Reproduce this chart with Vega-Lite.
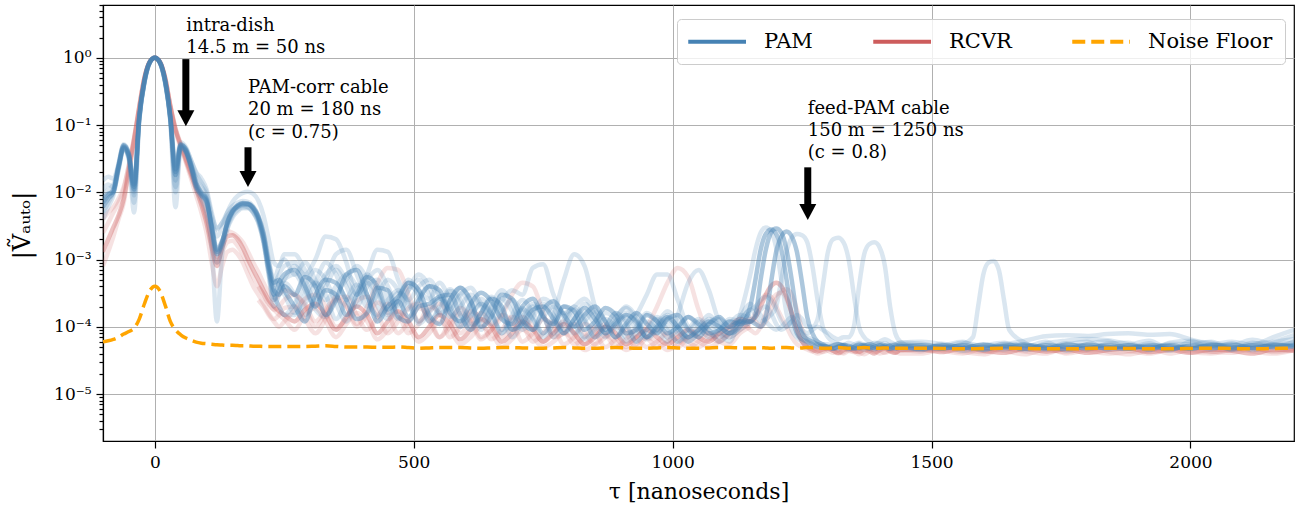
{
  "$schema": "https://vega.github.io/schema/vega-lite/v6.json",
  "width": 1191,
  "height": 436,
  "autosize": {"type": "none"},
  "padding": {"left": 103, "top": 5, "right": 2, "bottom": 67},
  "background": "white",
  "config": {
    "view": {"stroke": "#000000", "strokeWidth": 1.2},
    "font": "DejaVu Serif",
    "axis": {"domainColor": "#000000", "domainWidth": 1.2, "tickColor": "#000000", "tickWidth": 1.2, "labelColor": "#000000", "titleColor": "#000000", "gridColor": "#b0b0b0", "gridWidth": 1, "labelFont": "DejaVu Serif", "titleFont": "DejaVu Serif", "titleFontWeight": "normal", "labelFlush": false, "labelOverlap": false}
  },
  "datasets": {
    "curves": [
      {"x":-100,"p1":0.007,"p2":0.008,"p3":0.006,"p4":0.015,"p5":0.009,"p6":0.005,"p7":0.011,"p8":0.004,"r1":0.0013,"r2":0.0008,"r3":0.0025,"r4":0.004,"nf":6e-5},
      {"x":-90,"p1":0.009,"p2":0.0095,"p3":0.008,"p4":0.017,"p5":0.011,"p6":0.007,"p7":0.013,"p8":0.006,"r1":0.002,"r2":0.0013,"r3":0.0035,"r4":0.005,"nf":6.2e-5},
      {"x":-80,"p1":0.011,"p2":0.01,"p3":0.01,"p4":0.016,"p5":0.013,"p6":0.01,"p7":0.012,"p8":0.009,"r1":0.003,"r2":0.0022,"r3":0.005,"r4":0.006,"nf":6.5e-5},
      {"x":-70,"p1":0.024,"p2":0.023,"p3":0.025,"p4":0.026,"p5":0.024,"p6":0.022,"p7":0.027,"p8":0.021,"r1":0.0045,"r2":0.004,"r3":0.007,"r4":0.008,"nf":7e-5},
      {"x":-60,"p1":0.048,"p2":0.046,"p3":0.05,"p4":0.05,"p5":0.045,"p6":0.047,"p7":0.052,"p8":0.044,"r1":0.008,"r2":0.007,"r3":0.011,"r4":0.012,"nf":7.8e-5},
      {"x":-50,"p1":0.035,"p2":0.034,"p3":0.037,"p4":0.036,"p5":0.033,"p6":0.03,"p7":0.038,"p8":0.032,"r1":0.022,"r2":0.02,"r3":0.026,"r4":0.025,"nf":8.5e-5},
      {"x":-40,"p1":0.012,"p2":0.011,"p3":0.013,"p4":0.009,"p5":0.01,"p6":0.005,"p7":0.014,"p8":0.007,"r1":0.06,"r2":0.055,"r3":0.065,"r4":0.062,"nf":9.5e-5},
      {"x":-30,"p1":0.13,"p2":0.125,"p3":0.135,"p4":0.12,"p5":0.13,"p6":0.115,"p7":0.14,"p8":0.12,"r1":0.18,"r2":0.17,"r3":0.19,"r4":0.185,"nf":1.3e-4},
      {"x":-20,"p1":0.45,"p2":0.44,"p3":0.46,"p4":0.43,"p5":0.45,"p6":0.42,"p7":0.47,"p8":0.44,"r1":0.5,"r2":0.49,"r3":0.51,"r4":0.5,"nf":2.2e-4},
      {"x":-10,"p1":0.85,"p2":0.84,"p3":0.86,"p4":0.84,"p5":0.85,"p6":0.83,"p7":0.86,"p8":0.84,"r1":0.86,"r2":0.86,"r3":0.87,"r4":0.86,"nf":3.4e-4},
      {"x":0,"p1":1,"p2":1,"p3":1,"p4":1,"p5":1,"p6":1,"p7":1,"p8":1,"r1":1,"r2":1,"r3":1,"r4":1,"nf":4e-4},
      {"x":10,"p1":0.85,"p2":0.84,"p3":0.86,"p4":0.84,"p5":0.85,"p6":0.83,"p7":0.86,"p8":0.84,"r1":0.86,"r2":0.86,"r3":0.87,"r4":0.86,"nf":3.4e-4},
      {"x":20,"p1":0.45,"p2":0.44,"p3":0.46,"p4":0.43,"p5":0.45,"p6":0.42,"p7":0.47,"p8":0.44,"r1":0.5,"r2":0.49,"r3":0.51,"r4":0.5,"nf":2.1e-4},
      {"x":30,"p1":0.13,"p2":0.125,"p3":0.135,"p4":0.12,"p5":0.13,"p6":0.115,"p7":0.14,"p8":0.12,"r1":0.19,"r2":0.18,"r3":0.2,"r4":0.19,"nf":1.2e-4},
      {"x":40,"p1":0.02,"p2":0.018,"p3":0.022,"p4":0.012,"p5":0.015,"p6":0.006,"p7":0.025,"p8":0.01,"r1":0.085,"r2":0.08,"r3":0.09,"r4":0.087,"nf":9e-5},
      {"x":50,"p1":0.05,"p2":0.048,"p3":0.052,"p4":0.05,"p5":0.047,"p6":0.045,"p7":0.055,"p8":0.046,"r1":0.05,"r2":0.047,"r3":0.053,"r4":0.051,"nf":7.6e-5},
      {"x":60,"p1":0.042,"p2":0.04,"p3":0.044,"p4":0.045,"p5":0.04,"p6":0.042,"p7":0.047,"p8":0.038,"r1":0.03,"r2":0.028,"r3":0.032,"r4":0.033,"nf":6.8e-5},
      {"x":70,"p1":0.025,"p2":0.024,"p3":0.026,"p4":0.03,"p5":0.027,"p6":0.022,"p7":0.03,"p8":0.023,"r1":0.018,"r2":0.016,"r3":0.02,"r4":0.02,"nf":6.3e-5},
      {"x":80,"p1":0.013,"p2":0.012,"p3":0.014,"p4":0.02,"p5":0.016,"p6":0.011,"p7":0.019,"p8":0.012,"r1":0.011,"r2":0.009,"r3":0.012,"r4":0.013,"nf":5.9e-5},
      {"x":90,"p1":0.0095,"p2":0.009,"p3":0.01,"p4":0.016,"p5":0.012,"p6":0.008,"p7":0.014,"p8":0.009,"r1":0.0065,"r2":0.005,"r3":0.0075,"r4":0.008,"nf":5.7e-5},
      {"x":100,"p1":0.0075,"p2":0.0072,"p3":0.008,"p4":0.011,"p5":0.009,"p6":0.005,"p7":0.01,"p8":0.0065,"r1":0.0035,"r2":0.0025,"r3":0.0042,"r4":0.0045,"nf":5.6e-5},
      {"x":110,"p1":0.003,"p2":0.0032,"p3":0.0028,"p4":0.005,"p5":0.004,"p6":0.0015,"p7":0.0045,"p8":0.0025,"r1":0.0015,"r2":0.0009,"r3":0.002,"r4":0.0018,"nf":5.5e-5},
      {"x":120,"p1":0.0013,"p2":0.0014,"p3":0.0012,"p4":0.0028,"p5":0.0022,"p6":0.00012,"p7":0.003,"p8":0.0009,"r1":0.0008,"r2":0.0004,"r3":0.0011,"r4":0.0009,"nf":5.4e-5},
      {"x":130,"p1":0.0018,"p2":0.0019,"p3":0.0017,"p4":0.0035,"p5":0.003,"p6":0.0012,"p7":0.0035,"p8":0.0015,"r1":0.0015,"r2":0.0008,"r3":0.0018,"r4":0.0013,"nf":5.35e-5},
      {"x":140,"p1":0.0035,"p2":0.0033,"p3":0.0036,"p4":0.0045,"p5":0.005,"p6":0.0028,"p7":0.005,"p8":0.003,"r1":0.0022,"r2":0.0013,"r3":0.0026,"r4":0.0018,"nf":5.3e-5},
      {"x":150,"p1":0.0052,"p2":0.005,"p3":0.0053,"p4":0.0055,"p5":0.0072,"p6":0.0042,"p7":0.0062,"p8":0.0045,"r1":0.0023,"r2":0.0014,"r3":0.0025,"r4":0.0019,"nf":5.3e-5},
      {"x":160,"p1":0.0063,"p2":0.0061,"p3":0.0064,"p4":0.006,"p5":0.0088,"p6":0.0052,"p7":0.007,"p8":0.0055,"r1":0.002,"r2":0.0012,"r3":0.0022,"r4":0.0016,"nf":5.25e-5},
      {"x":170,"p1":0.0068,"p2":0.0066,"p3":0.0069,"p4":0.0063,"p5":0.0098,"p6":0.0058,"p7":0.0074,"p8":0.006,"r1":0.0015,"r2":0.0009,"r3":0.0018,"r4":0.0012,"nf":5.2e-5},
      {"x":180,"p1":0.0067,"p2":0.0066,"p3":0.0068,"p4":0.006,"p5":0.0102,"p6":0.0058,"p7":0.0072,"p8":0.006,"r1":0.001,"r2":0.0006,"r3":0.0013,"r4":0.0008,"nf":5.2e-5},
      {"x":190,"p1":0.0058,"p2":0.0057,"p3":0.006,"p4":0.005,"p5":0.0095,"p6":0.005,"p7":0.0062,"p8":0.0052,"r1":0.0007,"r2":0.0004,"r3":0.0009,"r4":0.00055,"nf":5.15e-5},
      {"x":200,"p1":0.0042,"p2":0.004,"p3":0.0044,"p4":0.0035,"p5":0.0075,"p6":0.0036,"p7":0.0045,"p8":0.0038,"r1":0.0005,"r2":0.0003,"r3":0.00065,"r4":0.0004,"s1":4e-4,"s2":2.5e-4,"nf":5.15e-5},
      {"x":210,"p1":0.0022,"p2":0.002,"p3":0.0024,"p4":0.0018,"p5":0.0045,"p6":0.0018,"p7":0.0025,"p8":0.002,"r1":0.00035,"r2":0.00022,"r3":0.00045,"r4":0.0003,"s1":3e-4,"s2":2e-4,"nf":5.1e-5},
      {"x":220,"p1":0.0008,"p2":0.0007,"p3":0.0009,"p4":0.0006,"p5":0.002,"p6":0.0006,"p7":0.001,"p8":0.0007,"r1":0.00025,"r2":0.00016,"r3":0.00032,"r4":0.00022,"s1":2.2e-4,"s2":1.5e-4,"nf":5.1e-5},
      {"x":230,"p1":0.00035,"p2":0.0003,"p3":0.00045,"p4":0.00025,"p5":0.0009,"p6":0.0002,"p7":0.0005,"p8":0.0003,"q1":4e-4,"q2":3e-4,"q3":5e-4,"q4":2.5e-4,"r1":0.0002,"r2":0.00013,"r3":0.00025,"r4":0.00018,"s1":1.8e-4,"s2":1.2e-4,"nf":5.1e-5},
      {"x":240,"p1":0.0003,"p2":0.00045,"p3":0.0005,"p4":0.00035,"p5":0.0008,"p6":0.0003,"p7":0.0008,"p8":0.0002,"q1":6e-4,"q2":2e-4,"q3":4e-4,"q4":3.5e-4,"r1":0.00017,"r2":0.00015,"r3":0.0003,"r4":0.00015,"s1":2e-4,"s2":1e-4,"nf":5.1e-5},
      {"x":250,"p1":0.0004,"p2":0.0006,"p3":0.00035,"p4":0.0005,"p5":0.0012,"p6":0.00045,"p7":0.001,"p8":0.00015,"q1":8e-4,"q2":1.5e-4,"q3":3e-4,"q4":5e-4,"r1":0.00015,"r2":0.00019,"r3":0.00035,"r4":0.00013,"s1":2.5e-4,"s2":1.2e-4,"nf":5.1e-5},
      {"x":270,"p1":3e-4,"p2":7e-4,"p3":2e-4,"p4":8e-4,"p5":1.2e-3,"p6":3e-4,"p7":6e-4,"p8":1.5e-4,"q1":9e-4,"q2":2.2e-4,"q3":1.6e-4,"q4":6e-4,"r1":1.2e-4,"r2":2e-4,"r3":3e-4,"r4":9e-5,"s1":3e-4,"s2":1.8e-4,"nf":5.1e-5},
      {"x":290,"p1":5.5e-4,"p2":4e-4,"p3":1.2e-4,"p4":6e-4,"p5":7e-4,"p6":1.5e-4,"p7":9e-4,"p8":3e-4,"q1":5e-4,"q2":4e-4,"q3":2.2e-4,"q4":3.5e-4,"r1":1.8e-4,"r2":1.3e-4,"r3":2.2e-4,"r4":1.5e-4,"s1":2e-4,"s2":2.6e-4,"nf":5.1e-5},
      {"x":310,"p1":4e-4,"p2":2e-4,"p3":3e-4,"p4":1e-3,"p5":4e-4,"p6":2.5e-4,"p7":5e-4,"p8":4.5e-4,"q1":2.5e-4,"q2":7e-4,"q3":4.5e-4,"q4":1.8e-4,"r1":2.2e-4,"r2":8e-5,"r3":1.2e-4,"r4":1.9e-4,"s1":1e-4,"s2":3e-4,"nf":5.15e-5},
      {"x":330,"p1":1.5e-4,"p2":3.5e-4,"p3":5e-4,"p4":2.2e-3,"p5":6e-4,"p6":5e-4,"p7":2.5e-4,"p8":3e-4,"q1":4e-4,"q2":5e-4,"q3":9e-4,"q4":1.4e-4,"r1":1.5e-4,"r2":1.3e-4,"r3":1.8e-4,"r4":1.2e-4,"s1":1.6e-4,"s2":2e-4,"nf":5.2e-5},
      {"x":350,"p1":2.5e-4,"p2":3e-4,"p3":4.5e-4,"p4":2e-3,"p5":8e-4,"p6":1.2e-3,"p7":4e-4,"p8":1.3e-4,"q1":7e-4,"q2":2.2e-4,"q3":6e-4,"q4":3e-4,"r1":9e-5,"r2":2.5e-4,"r3":2.8e-4,"r4":7e-5,"s1":2.6e-4,"s2":1e-4,"nf":5.1e-5},
      {"x":370,"p1":6e-4,"p2":1.5e-4,"p3":2.5e-4,"p4":9e-4,"p5":5e-4,"p6":1.4e-3,"p7":6e-4,"p8":2.5e-4,"q1":4e-4,"q2":1.2e-4,"q3":2.5e-4,"q4":5e-4,"r1":1.4e-4,"r2":2e-4,"r3":2e-4,"r4":1.1e-4,"s1":2.8e-4,"s2":1.3e-4,"nf":5e-5},
      {"x":390,"p1":7e-4,"p2":3e-4,"p3":1.3e-4,"p4":3e-4,"p5":3e-4,"p6":6e-4,"p7":4e-4,"p8":4.2e-4,"q1":2e-4,"q2":2.5e-4,"q3":3.5e-4,"q4":8e-4,"r1":2e-4,"r2":1.1e-4,"r3":1e-4,"r4":1.6e-4,"s1":1.5e-4,"s2":2.4e-4,"nf":5e-5},
      {"x":410,"p1":3e-4,"p2":5.5e-4,"p3":1.6e-4,"p4":5e-4,"p5":6e-4,"p6":2.5e-4,"p7":2e-4,"p8":3e-4,"q1":4e-4,"q2":4.5e-4,"q3":6e-4,"q4":5e-4,"r1":1.5e-4,"r2":2e-4,"r3":1.5e-4,"r4":1.2e-4,"s1":9e-5,"s2":2.8e-4,"nf":5e-5},
      {"x":430,"p1":1.2e-4,"p2":4e-4,"p3":3.8e-4,"p4":7e-4,"p5":1.4e-3,"p6":1.5e-4,"p7":3e-4,"p8":1.4e-4,"q1":5e-4,"q2":3e-4,"q3":3.5e-4,"q4":2e-4,"r1":8e-5,"r2":4.5e-4,"r3":2.3e-4,"r4":6.5e-5,"s1":1.4e-4,"s2":1.6e-4,"nf":4.95e-5},
      {"x":450,"p1":2e-4,"p2":1.8e-4,"p3":3.5e-4,"p4":4e-4,"p5":1.3e-3,"p6":2.5e-4,"p7":5e-4,"p8":2e-4,"q1":2.5e-4,"q2":1.5e-4,"q3":1.6e-4,"q4":1.3e-4,"r1":1.2e-4,"r2":7.5e-4,"r3":1.6e-4,"r4":9e-5,"s1":2.2e-4,"s2":8e-5,"nf":4.95e-5},
      {"x":470,"p1":2.8e-4,"p2":2.4e-4,"p3":1.4e-4,"p4":2e-4,"p5":5e-4,"p6":3.5e-4,"p7":3.5e-4,"p8":3.2e-4,"q1":1.3e-4,"q2":2.2e-4,"q3":2.5e-4,"q4":2.6e-4,"r1":1.7e-4,"r2":7e-4,"r3":8e-5,"r4":1.4e-4,"s1":1.6e-4,"s2":1.2e-4,"nf":5e-5},
      {"x":490,"p1":4.5e-4,"p2":1.4e-4,"p3":1.2e-4,"p4":3.5e-4,"p5":2.5e-4,"p6":2.2e-4,"p7":1.8e-4,"p8":2.4e-4,"q1":3.5e-4,"q2":4e-4,"q3":4.5e-4,"q4":5e-4,"r1":1.2e-4,"r2":3e-4,"r3":1.2e-4,"r4":1e-4,"s1":8e-5,"s2":1.9e-4,"nf":4.9e-5},
      {"x":510,"p1":3.5e-4,"p2":2.5e-4,"p3":2e-4,"p4":5e-4,"p5":4e-4,"p6":1.2e-4,"p7":2.8e-4,"p8":1.1e-4,"q1":6e-4,"q2":3e-4,"q3":2.8e-4,"q4":3.5e-4,"r1":7e-5,"r2":1.2e-4,"r3":1.9e-4,"r4":6e-5,"s1":1.1e-4,"s2":2.2e-4,"nf":4.8e-5},
      {"x":530,"p1":1.5e-4,"p2":4e-4,"p3":2.2e-4,"p4":3e-4,"p5":5e-4,"p6":1.8e-4,"p7":4e-4,"p8":1.6e-4,"q1":4e-4,"q2":1.2e-4,"q3":1.2e-4,"q4":2.6e-4,"r1":1e-4,"r2":1.7e-4,"r3":1.4e-4,"r4":8e-5,"s1":2e-4,"s2":1.2e-4,"nf":4.85e-5},
      {"x":550,"p1":1.1e-4,"p2":3.5e-4,"p3":2.8e-4,"p4":1.5e-4,"p5":3e-4,"p6":2.6e-4,"p7":2.8e-4,"p8":2.6e-4,"q1":1.6e-4,"q2":1.8e-4,"q3":2e-4,"q4":4.5e-4,"r1":1.5e-4,"r2":2.2e-4,"r3":7e-5,"r4":1.2e-4,"s1":1.6e-4,"s2":7e-5,"nf":4.9e-5},
      {"x":570,"p1":2.5e-4,"p2":1.6e-4,"p3":3e-4,"p4":2.5e-4,"p5":1.8e-4,"p6":1.8e-4,"p7":1.4e-4,"p8":2e-4,"q1":2e-4,"q2":3.4e-4,"q3":3.6e-4,"q4":2.5e-4,"r1":1.1e-4,"r2":1.4e-4,"r3":1e-4,"r4":9e-5,"s1":7e-5,"s2":1.2e-4,"nf":4.9e-5},
      {"x":590,"p1":3.8e-4,"p2":1.2e-4,"p3":1.5e-4,"p4":3.8e-4,"p5":3e-4,"p6":1e-4,"p7":2e-4,"p8":1e-4,"q1":3.2e-4,"q2":2.6e-4,"q3":2.2e-4,"q4":1.2e-4,"r1":6.5e-5,"r2":8e-5,"r3":1.6e-4,"r4":5.5e-5,"s1":1e-4,"s2":1.9e-4,"nf":4.9e-5},
      {"x":610,"p1":2.5e-4,"p2":2.2e-4,"p3":9e-5,"p4":2.4e-4,"p5":3.8e-4,"p6":1.5e-4,"p7":3e-4,"p8":1.4e-4,"q1":2e-4,"q2":1.1e-4,"q3":1e-4,"q4":1.7e-4,"r1":9e-5,"r2":1.2e-4,"r3":1.2e-4,"r4":7e-5,"s1":1.7e-4,"s2":1.4e-4,"nf":4.85e-5},
      {"x":630,"p1":1e-4,"p2":3.2e-4,"p3":1.6e-4,"p4":1.2e-4,"p5":2.2e-4,"p6":2.2e-4,"p7":2e-4,"p8":2.2e-4,"q1":9e-5,"q2":1.3e-4,"q3":1.6e-4,"q4":2.6e-4,"r1":1.3e-4,"r2":1.6e-4,"r3":6.5e-5,"r4":1e-4,"s1":1.3e-4,"s2":7e-5,"nf":4.8e-5},
      {"x":650,"p1":1.4e-4,"p2":2.4e-4,"p3":2.6e-4,"p4":1.8e-4,"p5":1.4e-4,"p6":1.5e-4,"p7":1.1e-4,"p8":1.6e-4,"q1":2e-4,"q2":2.2e-4,"q3":2.8e-4,"q4":1.6e-4,"r1":1e-4,"r2":1.1e-4,"r3":9e-5,"r4":8e-5,"s1":6.5e-5,"s2":9e-5,"nf":4.85e-5},
      {"x":670,"p1":3e-4,"p2":1.3e-4,"p3":2e-4,"p4":2.6e-4,"p5":2.4e-4,"p6":9e-5,"p7":1.7e-4,"p8":8e-5,"q1":3.5e-4,"q2":1.5e-4,"q3":1.8e-4,"q4":8e-5,"r1":6e-5,"r2":7e-5,"r3":1.4e-4,"r4":5e-5,"s1":9e-5,"s2":1.5e-4,"nf":4.9e-5},
      {"x":690,"p1":2.6e-4,"p2":1.1e-4,"p3":9e-5,"p4":1.7e-4,"p5":3.5e-4,"p6":1.3e-4,"p7":2.5e-4,"p8":1.2e-4,"q1":2.2e-4,"q2":7e-5,"q3":9e-5,"q4":1.5e-4,"r1":8e-5,"r2":1e-4,"r3":3e-4,"r4":6.5e-5,"s1":1.4e-4,"s2":1.2e-4,"nf":4.9e-5},
      {"x":710,"p1":1.2e-4,"p2":2e-4,"p3":1.1e-4,"p4":9e-5,"p5":3e-4,"p6":1.9e-4,"p7":1.6e-4,"p8":1.8e-4,"q1":1e-4,"q2":1.2e-4,"q3":1.4e-4,"q4":2.5e-4,"r1":1.2e-4,"r2":1.4e-4,"r3":4.5e-4,"r4":9e-5,"s1":1.1e-4,"s2":6e-5,"nf":4.85e-5},
      {"x":730,"p1":9e-5,"p2":2.6e-4,"p3":1.8e-4,"p4":1.4e-4,"p5":7.5e-4,"p6":1.3e-4,"p7":9e-5,"p8":1.3e-4,"q1":1.6e-4,"q2":2e-4,"q3":2.2e-4,"q4":1.6e-4,"r1":9e-5,"r2":1e-4,"r3":4e-4,"r4":7e-5,"s1":6e-5,"s2":8e-5,"nf":4.8e-5},
      {"x":750,"p1":1.8e-4,"p2":1.4e-4,"p3":2e-4,"p4":2.2e-4,"p5":8.5e-4,"p6":8e-5,"p7":1.4e-4,"p8":7e-5,"q1":2.6e-4,"q2":1.5e-4,"q3":1.4e-4,"q4":8e-5,"r1":6e-5,"r2":6e-5,"r3":1.6e-4,"r4":5e-5,"s1":8e-5,"s2":1.3e-4,"nf":4.8e-5},
      {"x":770,"p1":2.4e-4,"p2":1.1e-4,"p3":1.3e-4,"p4":1.5e-4,"p5":3e-4,"p6":1.5e-4,"p7":2e-4,"p8":1.1e-4,"q1":2e-4,"q2":7e-5,"q3":8e-5,"q4":1.2e-4,"r1":8e-5,"r2":9e-5,"r3":7e-5,"r4":6e-5,"s1":1.2e-4,"s2":1e-4,"nf":4.85e-5},
      {"x":790,"p1":1.5e-4,"p2":2e-4,"p3":8e-5,"p4":8e-5,"p5":1.6e-4,"p6":5e-4,"p7":1.4e-4,"p8":1.6e-4,"q1":9e-5,"q2":1.1e-4,"q3":1.3e-4,"q4":2e-4,"r1":1.1e-4,"r2":1.2e-4,"r3":8e-5,"r4":8e-5,"s1":9e-5,"s2":5.5e-5,"nf":4.9e-5},
      {"x":810,"p1":1e-4,"p2":1.7e-4,"p3":1.3e-4,"p4":1.1e-4,"p5":2e-4,"p6":1.2e-3,"p7":8e-5,"p8":1.1e-4,"q1":1.3e-4,"q2":1.8e-4,"q3":2e-4,"q4":1.4e-4,"r1":8e-5,"r2":8e-5,"r3":1.1e-4,"r4":6.5e-5,"s1":5.5e-5,"s2":7e-5,"nf":4.85e-5},
      {"x":830,"p1":1.5e-4,"p2":9e-5,"p3":1.9e-4,"p4":1.6e-4,"p5":2.6e-4,"p6":8e-4,"p7":1.2e-4,"p8":6.5e-5,"q1":2.2e-4,"q2":1.2e-4,"q3":1.3e-4,"q4":7e-5,"r1":5.5e-5,"r2":5.5e-5,"r3":8e-5,"r4":4.5e-5,"s1":7e-5,"s2":1.1e-4,"nf":4.8e-5},
      {"x":850,"p1":2e-4,"p2":1.2e-4,"p3":1.3e-4,"p4":1.1e-4,"p5":1.6e-4,"p6":2e-4,"p7":1.7e-4,"p8":9e-5,"q1":1.5e-4,"q2":7e-5,"q3":7e-5,"q4":1e-4,"r1":7e-5,"r2":8e-5,"r3":5.5e-5,"r4":5.5e-5,"s1":1e-4,"s2":8.5e-5,"nf":4.8e-5},
      {"x":870,"p1":1.2e-4,"p2":1.9e-4,"p3":8e-5,"p4":7e-5,"p5":9e-5,"p6":9e-5,"p7":1.2e-4,"p8":1.3e-4,"q1":8e-5,"q2":1e-4,"q3":1e-4,"q4":1.6e-4,"r1":1e-4,"r2":1.1e-4,"r3":7e-5,"r4":7.5e-5,"s1":8e-5,"s2":5e-5,"nf":4.85e-5},
      {"x":890,"p1":7e-5,"p2":1.5e-4,"p3":1.1e-4,"p4":1e-4,"p5":1.4e-4,"p6":1.2e-4,"p7":7e-5,"p8":1e-4,"q1":1.3e-4,"q2":1.6e-4,"q3":1.6e-4,"q4":1.3e-4,"r1":8e-5,"r2":7e-5,"r3":1e-4,"r4":6e-5,"s1":5e-5,"s2":6.5e-5,"nf":4.9e-5},
      {"x":910,"p1":1.1e-4,"p2":8e-5,"p3":1.5e-4,"p4":1.4e-4,"p5":1.9e-4,"p6":1.6e-4,"p7":1e-4,"p8":6e-5,"q1":2e-4,"q2":1.2e-4,"q3":1.1e-4,"q4":7e-5,"r1":5.5e-5,"r2":5e-5,"r3":8e-5,"r4":4.5e-5,"s1":6.5e-5,"s2":9e-5,"nf":4.85e-5},
      {"x":930,"p1":1.6e-4,"p2":9e-5,"p3":1.2e-4,"p4":9e-5,"p5":1.3e-4,"p6":1.1e-4,"p7":1.5e-4,"p8":8e-5,"q1":1.4e-4,"q2":6e-5,"q3":6e-5,"q4":1e-4,"r1":7e-5,"r2":7e-5,"r3":5e-5,"r4":5.5e-5,"s1":9e-5,"s2":7e-5,"nf":4.8e-5},
      {"x":950,"p1":1.1e-4,"p2":1.5e-4,"p3":7e-5,"p4":6.5e-5,"p5":8e-5,"p6":7e-5,"p7":3e-4,"p8":1.2e-4,"q1":7e-5,"q2":9e-5,"q3":9e-5,"q4":1.6e-4,"r1":9e-5,"r2":1e-4,"r3":7e-5,"r4":7e-5,"s1":7e-5,"s2":5e-5,"nf":4.8e-5},
      {"x":970,"p1":8e-5,"p2":1.2e-4,"p3":1e-4,"p4":9e-5,"p5":1.1e-4,"p6":9e-5,"p7":6e-4,"p8":9e-5,"q1":1.1e-4,"q2":1.4e-4,"q3":1.3e-4,"q4":1.2e-4,"r1":7e-5,"r2":2e-4,"r3":9e-5,"r4":6e-5,"s1":5e-5,"s2":6e-5,"nf":4.85e-5},
      {"x":990,"p1":1.3e-4,"p2":8e-5,"p3":1.4e-4,"p4":1.2e-4,"p5":1.5e-4,"p6":1.3e-4,"p7":6e-4,"p8":6e-5,"q1":1.7e-4,"q2":1e-4,"q3":9e-5,"q4":7e-5,"r1":5.5e-5,"r2":4.5e-4,"r3":7e-5,"r4":4.5e-5,"s1":6e-5,"s2":8e-5,"nf":4.9e-5},
      {"x":1010,"p1":1.5e-4,"p2":1e-4,"p3":1e-4,"p4":8e-5,"p5":1e-4,"p6":9e-5,"p7":2.5e-4,"p8":1.5e-4,"q1":1.2e-4,"q2":6e-5,"q3":6e-5,"q4":9e-5,"r1":7e-5,"r2":7.5e-4,"r3":5e-5,"r4":5.5e-5,"s1":8e-5,"s2":6.5e-5,"nf":4.85e-5},
      {"x":1030,"p1":9e-5,"p2":1.4e-4,"p3":7e-5,"p4":6e-5,"p5":7e-5,"p6":6e-5,"p7":1e-4,"p8":4.5e-4,"q1":7e-5,"q2":8e-5,"q3":9e-5,"q4":1.4e-4,"r1":9e-5,"r2":5.5e-4,"r3":7e-5,"r4":7e-5,"s1":6e-5,"s2":5e-5,"nf":4.8e-5},
      {"x":1050,"p1":7e-5,"p2":1.1e-4,"p3":9e-5,"p4":8e-5,"p5":9e-5,"p6":8e-5,"p7":8e-5,"p8":7e-4,"q1":1e-4,"q2":1.2e-4,"q3":1.3e-4,"q4":1e-4,"r1":7e-5,"r2":1.8e-4,"r3":9e-5,"r4":6e-5,"s1":5e-5,"s2":6e-5,"nf":4.8e-5},
      {"x":1070,"p1":1.1e-4,"p2":8e-5,"p3":1.2e-4,"p4":1e-4,"p5":1.3e-4,"p6":1.1e-4,"p7":1.1e-4,"p8":3.5e-4,"q1":1.5e-4,"q2":9e-5,"q3":9e-5,"q4":7e-5,"r1":6e-5,"r2":8e-5,"r3":7e-5,"r4":5e-5,"s1":6.5e-5,"s2":8e-5,"nf":4.85e-5},
      {"x":1090,"p1":1.4e-4,"p2":9e-5,"p3":1e-4,"p4":8e-5,"p5":1.1e-4,"p6":9e-5,"p7":1.3e-4,"p8":1.2e-4,"q1":1e-4,"q2":6e-5,"q3":7e-5,"q4":9e-5,"r1":8e-5,"r2":7e-5,"r3":6e-5,"r4":6e-5,"s1":8e-5,"s2":6e-5,"nf":4.9e-5},
      {"x":1110,"p1":1e-4,"p2":1.2e-4,"p3":8e-5,"p4":6e-5,"p5":8e-5,"p6":7e-5,"p7":1e-4,"p8":9e-5,"q1":8e-5,"q2":8e-5,"q3":1.1e-4,"q4":1.3e-4,"r1":1e-4,"r2":9e-5,"r3":8e-5,"r4":8e-5,"s1":7e-5,"s2":5.5e-5,"nf":4.9e-5},
      {"x":1130,"p1":1.2e-4,"p2":1.1e-4,"p3":1e-4,"p4":1.5e-4,"p5":1.2e-4,"p6":9e-5,"p7":1.3e-4,"p8":1.4e-4,"q1":1.1e-4,"q2":1.2e-4,"q3":1.5e-4,"q4":1.2e-4,"r1":1.3e-4,"r2":1.2e-4,"r3":1.1e-4,"r4":1e-4,"s1":9e-5,"s2":8e-5,"nf":4.85e-5},
      {"x":1150,"p1":1.2e-4,"p2":1.2e-4,"p3":2e-4,"p4":6e-4,"p5":1.8e-4,"p6":1.2e-4,"p7":1.8e-4,"p8":2.2e-4,"q1":1.5e-4,"q2":1.6e-4,"q3":1.3e-4,"q4":1.1e-4,"r1":1.2e-4,"r2":9e-5,"r3":1.3e-4,"r4":1.2e-4,"s1":1.1e-4,"s2":1e-4,"nf":4.85e-5},
      {"x":1160,"p1":1.5e-4,"p2":1.1e-4,"p3":5e-4,"p4":1.4e-3,"p5":1.5e-4,"p6":1.4e-4,"p7":2e-4,"p8":1.8e-4,"r1":1.4e-4,"r2":8e-5,"r3":1.2e-4,"r4":1.6e-4,"nf":4.85e-5},
      {"x":1170,"p1":5e-4,"p2":1e-4,"p3":1.4e-3,"p4":2.5e-3,"p5":1.2e-4,"p6":1.8e-4,"p7":2.5e-4,"p8":1.5e-4,"r1":2e-4,"r2":1e-4,"r3":1e-4,"r4":2.4e-4,"nf":4.9e-5},
      {"x":1180,"p1":1.4e-3,"p2":1.4e-4,"p3":2.4e-3,"p4":3e-3,"p5":1.3e-4,"p6":2e-4,"p7":2.8e-4,"p8":1.2e-4,"r1":3e-4,"r2":1.6e-4,"r3":1.2e-4,"r4":3e-4,"nf":4.85e-5},
      {"x":1190,"p1":2.5e-3,"p2":4.5e-4,"p3":2.8e-3,"p4":2.6e-3,"p5":1.5e-4,"p6":1.6e-4,"p7":2.5e-4,"p8":1e-4,"r1":4e-4,"r2":2.4e-4,"r3":1.8e-4,"r4":2.8e-4,"nf":4.8e-5},
      {"x":1200,"p1":2.9e-3,"p2":1.3e-3,"p3":2.4e-3,"p4":1.5e-3,"p5":2e-4,"p6":1.1e-4,"p7":1.8e-4,"p8":9e-5,"r1":4.5e-4,"r2":3e-4,"r3":2.6e-4,"r4":2e-4,"nf":4.85e-5},
      {"x":1210,"p1":2.5e-3,"p2":2.2e-3,"p3":1.4e-3,"p4":5e-4,"p5":5e-4,"p6":9e-5,"p7":1.2e-4,"p8":1e-4,"r1":4e-4,"r2":3.2e-4,"r3":3.4e-4,"r4":1.4e-4,"nf":4.9e-5},
      {"x":1220,"p1":1.4e-3,"p2":2.6e-3,"p3":5e-4,"p4":1.6e-4,"p5":1.3e-3,"p6":1e-4,"p7":1e-4,"p8":1.2e-4,"r1":2.8e-4,"r2":2.6e-4,"r3":3.6e-4,"r4":1e-4,"nf":4.9e-5},
      {"x":1230,"p1":5e-4,"p2":2.2e-3,"p3":1.5e-4,"p4":9e-5,"p5":2.1e-3,"p6":1.2e-4,"p7":1.2e-4,"p8":1.4e-4,"r1":1.6e-4,"r2":1.6e-4,"r3":3e-4,"r4":7e-5,"nf":4.85e-5},
      {"x":1240,"p1":1.5e-4,"p2":1.3e-3,"p3":8e-5,"p4":7e-5,"p5":2.4e-3,"p6":1e-4,"p7":1.5e-4,"p8":1.2e-4,"r1":9e-5,"r2":9e-5,"r3":1.8e-4,"r4":5.5e-5,"nf":4.8e-5},
      {"x":1250,"p1":8e-5,"p2":4.5e-4,"p3":6.5e-5,"p4":6e-5,"p5":2.3e-3,"p6":8e-5,"p7":1.3e-4,"p8":9e-5,"r1":6e-5,"r2":6e-5,"r3":9e-5,"r4":5e-5,"nf":4.85e-5},
      {"x":1260,"p1":6.5e-5,"p2":1.4e-4,"p3":6e-5,"p4":5.5e-5,"p5":1.8e-3,"p6":7e-5,"p7":1e-4,"p8":8e-5,"r1":5e-5,"r2":5e-5,"r3":6e-5,"r4":4.6e-5,"nf":4.9e-5},
      {"x":1270,"p1":6e-5,"p2":8e-5,"p3":5.5e-5,"p4":5e-5,"p5":8e-4,"p6":6.5e-5,"p7":1e-4,"p8":9e-5,"r1":4.6e-5,"r2":4.4e-5,"r3":5e-5,"r4":4.3e-5,"nf":4.9e-5},
      {"x":1280,"p1":5.5e-5,"p2":6e-5,"p3":5e-5,"p4":5.5e-5,"p5":2.5e-4,"p6":6e-5,"p7":1.3e-4,"p8":1e-4,"r1":4.3e-5,"r2":4e-5,"r3":4.6e-5,"r4":4.7e-5,"nf":4.85e-5},
      {"x":1290,"p1":5.2e-5,"p2":5.5e-5,"p3":5.2e-5,"p4":5e-5,"p5":1e-4,"p6":5.5e-5,"p7":4e-4,"p8":9e-5,"r1":4.6e-5,"r2":4.3e-5,"r3":4.2e-5,"r4":4.9e-5,"nf":4.8e-5},
      {"x":1300,"p1":5e-5,"p2":5e-5,"p3":5e-5,"p4":4.8e-5,"p5":7e-5,"p6":5.5e-5,"p7":1.3e-3,"p8":8e-5,"r1":4.8e-5,"r2":4.7e-5,"r3":4.5e-5,"r4":4.4e-5,"nf":4.8e-5},
      {"x":1310,"p1":5.3e-5,"p2":4.8e-5,"p3":4.7e-5,"p4":5.2e-5,"p5":6e-5,"p6":5e-5,"p7":2e-3,"p8":7e-5,"r1":4.4e-5,"r2":4.4e-5,"r3":4.8e-5,"r4":4.1e-5,"nf":4.85e-5},
      {"x":1320,"p1":5.5e-5,"p2":5.1e-5,"p3":5e-5,"p4":5.6e-5,"p5":5.5e-5,"p6":4.7e-5,"p7":2.1e-3,"p8":6.5e-5,"r1":4.1e-5,"r2":4e-5,"r3":4.4e-5,"r4":4.5e-5,"nf":4.9e-5},
      {"x":1330,"p1":5.2e-5,"p2":5.4e-5,"p3":5.3e-5,"p4":5.2e-5,"p5":5e-5,"p6":5.2e-5,"p7":1.8e-3,"p8":7e-5,"r1":4.5e-5,"r2":4.2e-5,"r3":4e-5,"r4":4.8e-5,"nf":4.85e-5},
      {"x":1340,"p1":4.8e-5,"p2":5.2e-5,"p3":5e-5,"p4":4.9e-5,"p5":4.6e-5,"p6":5.8e-5,"p7":1e-3,"p8":7e-5,"r1":4.8e-5,"r2":4.6e-5,"r3":4.4e-5,"r4":4.4e-5,"nf":4.8e-5},
      {"x":1350,"p1":5e-5,"p2":4.9e-5,"p3":4.7e-5,"p4":5.4e-5,"p5":5e-5,"p6":5.4e-5,"p7":3e-4,"p8":1e-4,"r1":4.4e-5,"r2":4.3e-5,"r3":4.7e-5,"r4":4.2e-5,"nf":4.8e-5},
      {"x":1360,"p1":5.4e-5,"p2":4.8e-5,"p3":5e-5,"p4":5.8e-5,"p5":5.6e-5,"p6":4.9e-5,"p7":1e-4,"p8":4e-4,"r1":4.2e-5,"r2":3.9e-5,"r3":4.3e-5,"r4":4.6e-5,"nf":4.85e-5},
      {"x":1370,"p1":5.1e-5,"p2":5.2e-5,"p3":5.4e-5,"p4":5.3e-5,"p5":5.2e-5,"p6":4.6e-5,"p7":7e-5,"p8":1.2e-3,"r1":4.6e-5,"r2":4.3e-5,"r3":3.9e-5,"r4":4.9e-5,"nf":4.9e-5},
      {"x":1380,"p1":4.8e-5,"p2":5.5e-5,"p3":5.1e-5,"p4":5e-5,"p5":4.7e-5,"p6":5.2e-5,"p7":6e-5,"p8":1.7e-3,"r1":4.3e-5,"r2":4.7e-5,"r3":4.3e-5,"r4":4.5e-5,"nf":4.85e-5},
      {"x":1390,"p1":5e-5,"p2":5.2e-5,"p3":4.8e-5,"p4":5.4e-5,"p5":4.6e-5,"p6":5.8e-5,"p7":5.5e-5,"p8":1.8e-3,"r1":4e-5,"r2":4.4e-5,"r3":4.7e-5,"r4":4.2e-5,"nf":4.8e-5},
      {"x":1400,"p1":5.3e-5,"p2":4.8e-5,"p3":4.9e-5,"p4":5.7e-5,"p5":5.2e-5,"p6":5.5e-5,"p7":6e-5,"p8":1.5e-3,"r1":4.5e-5,"r2":4e-5,"r3":4.5e-5,"r4":4.6e-5,"nf":4.8e-5},
      {"x":1410,"p1":5e-5,"p2":5e-5,"p3":5.3e-5,"p4":5.2e-5,"p5":5.7e-5,"p6":5e-5,"p7":6.5e-5,"p8":8e-4,"r1":4.7e-5,"r2":4.2e-5,"r3":4.1e-5,"r4":4.9e-5,"nf":4.85e-5},
      {"x":1420,"p1":4.7e-5,"p2":5.3e-5,"p3":5.1e-5,"p4":5e-5,"p5":5.2e-5,"p6":4.7e-5,"p7":6e-5,"p8":2e-4,"r1":4.3e-5,"r2":4.6e-5,"r3":4.4e-5,"r4":4.4e-5,"nf":4.8e-5},
      {"x":1430,"p1":5e-5,"p2":5.4e-5,"p3":4.8e-5,"p4":5.5e-5,"p5":4.7e-5,"p6":5.2e-5,"p7":5.5e-5,"p8":8e-5,"r1":4.1e-5,"r2":4.3e-5,"r3":4.8e-5,"r4":4.1e-5,"nf":4.8e-5},
      {"x":1440,"p1":5.2e-5,"p2":5.1e-5,"p3":5e-5,"p4":5.8e-5,"p5":4.8e-5,"p6":5.5e-5,"p7":5.8e-5,"p8":6e-5,"r1":4.5e-5,"r2":4e-5,"r3":4.5e-5,"r4":4.5e-5,"nf":4.8e-5},
      {"x":1480,"p1":5e-5,"p2":5.3e-5,"p3":4.7e-5,"p4":5.6e-5,"p5":4.5e-5,"p6":5.2e-5,"p7":6e-5,"p8":4.6e-5,"r1":4.6e-5,"r2":4e-5,"r3":4.8e-5,"r4":4.3e-5,"nf":4.8e-5},
      {"x":1520,"p1":4.7e-5,"p2":5e-5,"p3":5.3e-5,"p4":5e-5,"p5":5.6e-5,"p6":4.8e-5,"p7":5.5e-5,"p8":5.2e-5,"r1":4.2e-5,"r2":4.6e-5,"r3":4.4e-5,"r4":4.9e-5,"nf":4.75e-5},
      {"x":1560,"p1":5.3e-5,"p2":4.8e-5,"p3":5e-5,"p4":5.8e-5,"p5":4.8e-5,"p6":5.5e-5,"p7":4.4e-5,"p8":6e-5,"r1":4.8e-5,"r2":4.2e-5,"r3":4e-5,"r4":4.5e-5,"nf":4.7e-5},
      {"x":1580,"p6":7e-5},
      {"x":1590,"p6":2e-4},
      {"x":1600,"p1":4.9e-5,"p2":5.4e-5,"p3":4.6e-5,"p4":5.2e-5,"p5":5.5e-5,"p6":6e-4,"p7":5.2e-5,"p8":4.5e-5,"r1":4.4e-5,"r2":3.9e-5,"r3":4.7e-5,"r4":4.2e-5,"nf":4.75e-5},
      {"x":1610,"p6":9e-4},
      {"x":1620,"p6":9.5e-4},
      {"x":1630,"p6":7e-4},
      {"x":1640,"p1":5.1e-5,"p2":4.9e-5,"p3":5.2e-5,"p4":5.5e-5,"p5":4.6e-5,"p6":2.5e-4,"p7":5.8e-5,"p8":5.6e-5,"r1":4.1e-5,"r2":4.7e-5,"r3":4.4e-5,"r4":4.8e-5,"nf":4.8e-5},
      {"x":1650,"p6":9e-5},
      {"x":1680,"p1":4.7e-5,"p2":5.2e-5,"p3":5.4e-5,"p4":6.2e-5,"p5":5.5e-5,"p6":5.8e-5,"p7":4.5e-5,"p8":5e-5,"r1":4.7e-5,"r2":4.3e-5,"r3":3.9e-5,"r4":4.5e-5,"nf":4.75e-5},
      {"x":1720,"p1":5.3e-5,"p2":4.8e-5,"p3":4.9e-5,"p4":7.2e-5,"p5":4.7e-5,"p6":4.6e-5,"p7":5.6e-5,"p8":6e-5,"r1":4.3e-5,"r2":4e-5,"r3":4.6e-5,"r4":4.9e-5,"nf":4.7e-5},
      {"x":1760,"p1":5e-5,"p2":5.4e-5,"p3":4.7e-5,"p4":7.5e-5,"p5":5.7e-5,"p6":5.4e-5,"p7":6.2e-5,"p8":4.4e-5,"r1":4.6e-5,"r2":4.8e-5,"r3":4.2e-5,"r4":4e-5,"nf":4.7e-5},
      {"x":1800,"p1":4.8e-5,"p2":5.1e-5,"p3":5.4e-5,"p4":7.3e-5,"p5":4.6e-5,"p6":6e-5,"p7":6.6e-5,"p8":5.5e-5,"r1":4.1e-5,"r2":4.4e-5,"r3":4.8e-5,"r4":4.5e-5,"nf":4.75e-5},
      {"x":1840,"p1":5.3e-5,"p2":4.8e-5,"p3":5e-5,"p4":7.8e-5,"p5":5.6e-5,"p6":4.6e-5,"p7":6.3e-5,"p8":6.1e-5,"r1":4.5e-5,"r2":4e-5,"r3":4.3e-5,"r4":4.9e-5,"nf":4.8e-5},
      {"x":1880,"p1":4.9e-5,"p2":5.3e-5,"p3":4.7e-5,"p4":8e-5,"p5":5.8e-5,"p6":5.3e-5,"p7":5.5e-5,"p8":4.8e-5,"r1":4.8e-5,"r2":4.3e-5,"r3":3.9e-5,"r4":4.4e-5,"nf":4.75e-5},
      {"x":1920,"p1":5.1e-5,"p2":4.9e-5,"p3":5.3e-5,"p4":7.6e-5,"p5":4.5e-5,"p6":6.2e-5,"p7":4.6e-5,"p8":5.7e-5,"r1":4.2e-5,"r2":4.7e-5,"r3":4.5e-5,"r4":4e-5,"nf":4.7e-5},
      {"x":1960,"p1":4.7e-5,"p2":5.3e-5,"p3":5.1e-5,"p4":7.8e-5,"p5":5.6e-5,"p6":4.7e-5,"p7":5.8e-5,"p8":4.4e-5,"r1":4.5e-5,"r2":4e-5,"r3":4.8e-5,"r4":4.6e-5,"nf":4.7e-5},
      {"x":2000,"p1":5.2e-5,"p2":4.8e-5,"p3":4.7e-5,"p4":6.5e-5,"p5":5.5e-5,"p6":5.2e-5,"p7":6.2e-5,"p8":6e-5,"r1":4.1e-5,"r2":4.5e-5,"r3":4.2e-5,"r4":4.9e-5,"nf":4.75e-5},
      {"x":2040,"p1":5e-5,"p2":5.2e-5,"p3":5.4e-5,"p4":5.5e-5,"p5":4.6e-5,"p6":6e-5,"p7":4.8e-5,"p8":5.8e-5,"r1":4.6e-5,"r2":4.2e-5,"r3":4e-5,"r4":4.3e-5,"nf":4.8e-5},
      {"x":2080,"p1":4.8e-5,"p2":5.4e-5,"p3":5e-5,"p4":6e-5,"p5":5.7e-5,"p6":4.6e-5,"p7":5.2e-5,"p8":4.5e-5,"r1":4.4e-5,"r2":4.7e-5,"r3":4.6e-5,"r4":4.1e-5,"nf":4.75e-5},
      {"x":2120,"p1":5.3e-5,"p2":4.9e-5,"p3":4.8e-5,"p4":5.4e-5,"p5":4.5e-5,"p6":5.8e-5,"p7":6.4e-5,"p8":5.5e-5,"r1":4e-5,"r2":4.3e-5,"r3":4.8e-5,"r4":4.7e-5,"nf":4.7e-5},
      {"x":2160,"p1":5e-5,"p2":5.2e-5,"p3":5.4e-5,"p4":7e-5,"p5":5.8e-5,"p6":4.9e-5,"p7":5.5e-5,"p8":6e-5,"r1":4.6e-5,"r2":4e-5,"r3":4.2e-5,"r4":4.4e-5,"nf":4.75e-5},
      {"x":2200,"p1":5.2e-5,"p2":5.4e-5,"p3":5e-5,"p4":9e-5,"p5":6.5e-5,"p6":6e-5,"p7":5.8e-5,"p8":7.5e-5,"r1":4.4e-5,"r2":4.5e-5,"r3":4.6e-5,"r4":4.7e-5,"nf":4.8e-5}
    ],
    "notes": [
      {"x":61,"y":2.5,"t":"intra-dish"},
      {"x":61,"y":1.175,"t":"14.5 m = 50 ns"},
      {"x":180,"y":0.301,"t":"PAM-corr cable"},
      {"x":180,"y":0.14,"t":"20 m = 180 ns"},
      {"x":180,"y":0.0651,"t":"(c = 0.75)"},
      {"x":1261,"y":0.145,"t":"feed-PAM cable"},
      {"x":1261,"y":0.0688,"t":"150 m = 1250 ns"},
      {"x":1261,"y":0.0326,"t":"(c = 0.8)"}
    ],
    "arrows": [
      {"x":60,"y1":0.956,"y2":0.155,"yh":0.126},
      {"x":180,"y1":0.0467,"y2":0.0191,"yh":0.01573},
      {"x":1261,"y1":0.0235,"y2":0.00638,"yh":0.0051}
    ]
  },
  "layer": [
    {
      "data": {"name": "curves"},
      "transform": [{"fold": ["r2","r3","r4","s1","s2"], "as": ["k","v"]}, {"filter": "isValid(datum.v)"}],
      "mark": {"type": "line", "interpolate": "monotone", "strokeWidth": 4.5, "opacity": 0.18, "strokeJoin": "round", "clip": true},
      "encoding": {
        "x": {"field": "x", "type": "quantitative", "scale": {"domain": [-100, 2200], "nice": false, "zero": false},
              "axis": {"values": [0,500,1000,1500,2000], "format": "d", "title": "τ [nanoseconds]", "labelFontSize": 17, "titleFontSize": 22, "tickSize": 7, "labelPadding": 6, "grid": true, "titleY": 57, "titleBaseline": "alphabetic"}},
        "y": {"field": "v", "type": "quantitative", "title": "|Ṽₐᵤₜₒ|", "scale": {"type": "log", "domain": [2e-6, 6.1], "nice": false},
              "axis": {"values": [3e-6,4e-6,5e-6,6e-6,7e-6,8e-6,9e-6,1e-5,2e-5,3e-5,4e-5,5e-5,6e-5,7e-5,8e-5,9e-5,1e-4,2e-4,3e-4,4e-4,5e-4,6e-4,7e-4,8e-4,9e-4,0.001,0.002,0.003,0.004,0.005,0.006,0.007,0.008,0.009,0.01,0.02,0.03,0.04,0.05,0.06,0.07,0.08,0.09,0.1,0.2,0.3,0.4,0.5,0.6,0.7,0.8,0.9,1,2,3,4,5,6],
                       "labelExpr": "abs(log(datum.value)/LN10 - round(log(datum.value)/LN10)) < 0.001 ? ['10⁻⁵','10⁻⁴','10⁻³','10⁻²','10⁻¹','10⁰'][round(log(datum.value)/LN10) + 5] : ''",
                       "tickSize": {"condition": {"test": "abs(log(datum.value)/LN10 - round(log(datum.value)/LN10)) < 0.001", "value": 7}, "value": 4},
                       "gridOpacity": {"condition": {"test": "abs(log(datum.value)/LN10 - round(log(datum.value)/LN10)) < 0.001", "value": 1}, "value": 0},
                       "labelFontSize": 17, "labelPadding": 5, "titleFontSize": 24, "titleX": -81, "titleY": 220, "titleAngle": -90, "titleBaseline": "middle", "titleAlign": "center", "grid": true}},
        "detail": {"field": "k"},
        "color": {"datum": "RCVR", "scale": {"domain": ["PAM","RCVR","Noise Floor"], "range": ["#4682b4","#cd5c5c","#ffa500"]},
                  "legend": {"title": null, "orient": "none", "legendX": 574, "legendY": 14, "direction": "horizontal", "columns": 3, "symbolType": "M-1.5,0L6.2,0", "symbolSize": 225, "symbolStrokeWidth": 4, "labelFont": "DejaVu Serif", "labelFontSize": 21, "labelColor": "#000000", "labelOffset": 54, "columnPadding": 52, "padding": 12, "fillColor": "rgba(255,255,255,0.8)", "strokeColor": "#cccccc", "cornerRadius": 4, "symbolOpacity": 1, "labelLimit": 300,
                             "encode": {"symbols": {"update": {"strokeDash": {"signal": "datum.value === 'Noise Floor' ? [13, 6] : [200, 0]"}, "opacity": {"value": 1}, "strokeWidth": {"value": 4}, "fillOpacity": {"value": 0}}}}}}
      }
    },
    {
      "data": {"name": "curves"},
      "transform": [{"fold": ["r1"], "as": ["k","v"]}, {"filter": "isValid(datum.v)"}],
      "mark": {"type": "line", "interpolate": "monotone", "strokeWidth": 4.5, "opacity": 0.38, "strokeJoin": "round", "clip": true},
      "encoding": {
        "x": {"field": "x", "type": "quantitative"},
        "y": {"field": "v", "type": "quantitative", "title": "|Ṽₐᵤₜₒ|"},
        "detail": {"field": "k"},
        "color": {"datum": "RCVR"}
      }
    },
    {
      "data": {"name": "curves"},
      "transform": [{"fold": ["p4","p5","p6","p7","p8","q1","q2","q3","q4"], "as": ["k","v"]}, {"filter": "isValid(datum.v)"}],
      "mark": {"type": "line", "interpolate": "monotone", "strokeWidth": 4.5, "opacity": 0.2, "strokeJoin": "round", "clip": true},
      "encoding": {
        "x": {"field": "x", "type": "quantitative"},
        "y": {"field": "v", "type": "quantitative", "title": "|Ṽₐᵤₜₒ|"},
        "detail": {"field": "k"},
        "color": {"datum": "PAM"}
      }
    },
    {
      "data": {"name": "curves"},
      "transform": [{"fold": ["p1","p2","p3"], "as": ["k","v"]}, {"filter": "isValid(datum.v)"}],
      "mark": {"type": "line", "interpolate": "monotone", "strokeWidth": 4.5, "opacity": 0.45, "strokeJoin": "round", "clip": true},
      "encoding": {
        "x": {"field": "x", "type": "quantitative"},
        "y": {"field": "v", "type": "quantitative", "title": "|Ṽₐᵤₜₒ|"},
        "detail": {"field": "k"},
        "color": {"datum": "PAM"}
      }
    },
    {
      "data": {"name": "curves"},
      "transform": [{"filter": "isValid(datum.nf)"}],
      "mark": {"type": "line", "interpolate": "monotone", "strokeWidth": 3.5, "clip": true},
      "encoding": {
        "x": {"field": "x", "type": "quantitative"},
        "y": {"field": "nf", "type": "quantitative", "title": "|Ṽₐᵤₜₒ|"},
        "color": {"datum": "Noise Floor"},
        "strokeDash": {"value": [13, 6]}
      }
    },
    {
      "data": {"name": "arrows"},
      "mark": {"type": "rule", "strokeWidth": 7, "color": "#000000"},
      "encoding": {
        "x": {"field": "x", "type": "quantitative"},
        "y": {"field": "y1", "type": "quantitative", "title": "|Ṽₐᵤₜₒ|"},
        "y2": {"field": "y2"}
      }
    },
    {
      "data": {"name": "arrows"},
      "mark": {"type": "point", "shape": "M-1,-0.94L1,-0.94L0,0.94Z", "filled": true, "size": 289, "color": "#000000", "opacity": 1, "strokeWidth": 0},
      "encoding": {
        "x": {"field": "x", "type": "quantitative"},
        "y": {"field": "yh", "type": "quantitative", "title": "|Ṽₐᵤₜₒ|"}
      }
    },
    {
      "data": {"name": "notes"},
      "mark": {"type": "text", "align": "left", "baseline": "alphabetic", "font": "DejaVu Serif", "fontSize": 18, "color": "#000000"},
      "encoding": {
        "x": {"field": "x", "type": "quantitative"},
        "y": {"field": "y", "type": "quantitative", "title": "|Ṽₐᵤₜₒ|"},
        "text": {"field": "t", "type": "nominal"}
      }
    }
  ]
}
